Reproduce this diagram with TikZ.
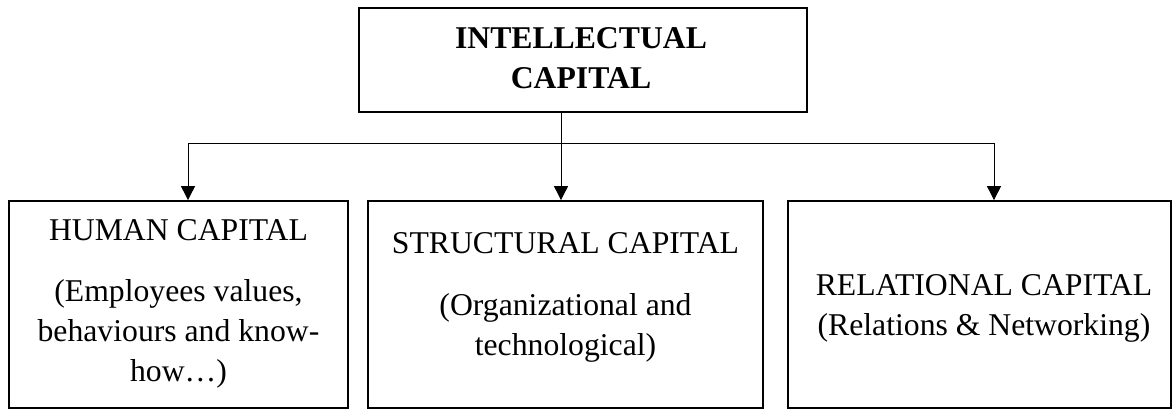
\documentclass[tikz,border=0pt]{standalone}
\usepackage{fontspec}
\setmainfont{Liberation Serif}
\usetikzlibrary{arrows.meta}
\tikzset{
  capbox/.style={draw, line width=1.8pt, rectangle, inner sep=0pt},
  captext/.style={align=center, anchor=base, inner sep=0pt, font=\fontsize{31.7}{40}\selectfont},
  link/.style={draw, line width=0.9pt},
  arrowlink/.style={link, -{Triangle[width=14pt,length=14pt]}}
}
\begin{document}
\begin{tikzpicture}[x=1pt,y=-1pt]
\useasboundingbox (0,0) rectangle (1173,410);
% boxes
\node[capbox, minimum width=448pt, minimum height=104pt] (ic) at (583,60) {};
\node[capbox, minimum width=339pt, minimum height=207pt] (hc) at (178.5,304.5) {};
\node[capbox, minimum width=395pt, minimum height=207pt] (sc) at (565.5,304.5) {};
\node[capbox, minimum width=383pt, minimum height=207pt] (rc) at (979.5,304.5) {};
% texts (base anchor = baseline of the last line)
\node[captext, font=\fontsize{31.7}{40}\selectfont\bfseries] (ict) at (581,88) {INTELLECTUAL\\CAPITAL};
\node[captext] (hct) at (178.5,381) {HUMAN CAPITAL\\[21pt](Employees values,\\behaviours and know-\\how…)};
\node[captext] (sct) at (565.5,355) {STRUCTURAL CAPITAL\\[22pt](Organizational and\\technological)};
\node[captext] (rct) at (984,335) {RELATIONAL CAPITAL\\(Relations \& Networking)};
% connectors
\coordinate (jl) at (188,143);
\coordinate (jm) at (561,143);
\coordinate (jr) at (994,143);
\draw[link] (jm |- ic.south) -- (jm);
\draw[link] (jl) -- (jr);
\draw[arrowlink] (jl) -- (jl |- hc.north);
\draw[arrowlink] (jm) -- (jm |- sc.north);
\draw[arrowlink] (jr) -- (jr |- rc.north);
\end{tikzpicture}
\end{document}
